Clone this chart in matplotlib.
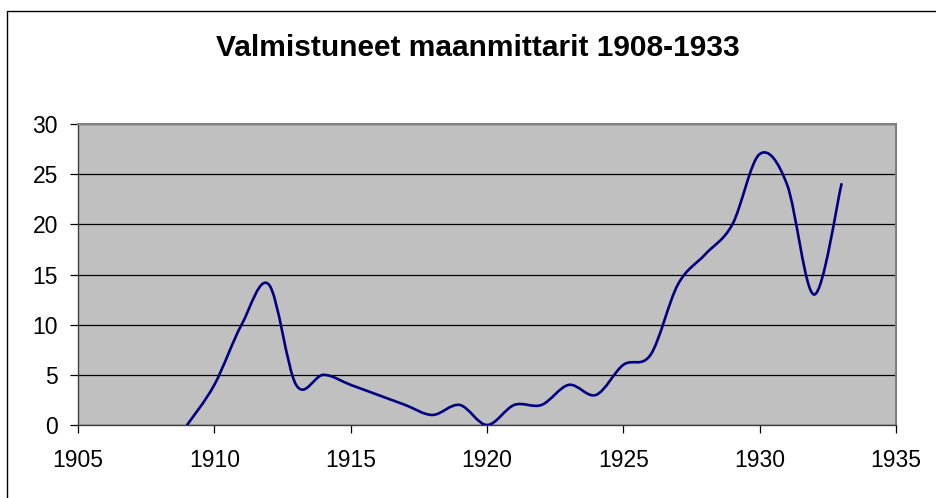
import numpy as np
import matplotlib
matplotlib.use('Agg')
import matplotlib.pyplot as plt
from matplotlib.path import Path
from matplotlib.patches import PathPatch, Rectangle

# data
years = [1909, 1910, 1911, 1912, 1913, 1914, 1915, 1916, 1917, 1918, 1919, 1920,
         1921, 1922, 1923, 1924, 1925, 1926, 1927, 1928, 1929, 1930, 1931, 1932, 1933]
graduates = [0, 4, 10, 14, 4, 5, 4, 3, 2, 1, 2, 0,
             2, 2, 4, 3, 6, 7, 14, 17, 20, 27, 24, 13, 24]
title = 'Valmistuneet maanmittarit 1908-1933'
xticks = [1905, 1910, 1915, 1920, 1925, 1930, 1935]
yticks = [0, 5, 10, 15, 20, 25, 30]

plt.rcParams['font.family'] = ['Liberation Sans', 'DejaVu Sans']

fig = plt.figure(figsize=(9.36, 4.98), dpi=100)
ax = fig.add_axes([78/936, 1-425/498, (896-78)/936, (425-124)/498])
ax.set_facecolor('#c0c0c0')

# outer chart frame (only top and left edges are inside the picture)
fig.add_artist(Rectangle((7/936, -0.5), 2, 1-11/498+0.5, transform=fig.transFigure,
                         fill=False, edgecolor='black', linewidth=1.0))

# smoothed line like excel: bezier segments through the points
pts = np.column_stack([years, graduates]).astype(float)
verts = [pts[0]]
codes = [Path.MOVETO]
n = len(pts)
for i in range(n-1):
    p0 = pts[max(i-1, 0)]
    p1 = pts[i]
    p2 = pts[i+1]
    p3 = pts[min(i+2, n-1)]
    verts += [p1 + (p2-p0)/6, p2 - (p3-p1)/6, p2]
    codes += [Path.CURVE4]*3
ax.add_patch(PathPatch(Path(verts, codes), fill=False, edgecolor='#000080',
                       linewidth=1.9, capstyle='round', joinstyle='round', zorder=3))

ax.set_xlim(1905, 1935)
ax.set_ylim(0, 30)
ax.set_xticks(xticks)
ax.set_yticks(yticks)
ax.grid(axis='y', color='black', linewidth=0.9)
ax.set_axisbelow(True)
ax.tick_params(labelsize=16.5, length=6, width=0.9, color='black')
ax.tick_params(axis='x', pad=11.5)
ax.tick_params(axis='y', pad=8.5)
for s in ['top', 'right']:
    ax.spines[s].set_color('#808080')
    ax.spines[s].set_linewidth(1.5)
for s in ['left', 'bottom']:
    ax.spines[s].set_color('#404040')
    ax.spines[s].set_linewidth(1.0)

fig.text(478/936, 1-48/498, title, ha='center', va='center', fontsize=21.5, fontweight='bold')

fig.savefig('out.png', dpi=100)
